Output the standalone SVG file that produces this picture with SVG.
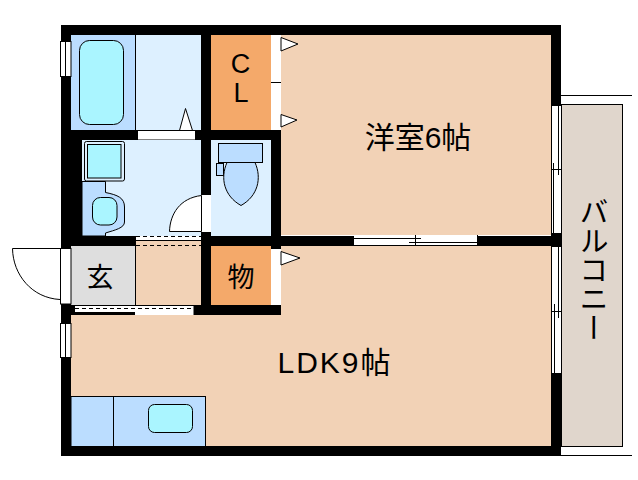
<svg xmlns="http://www.w3.org/2000/svg" width="638" height="480" viewBox="0 0 638 480">
<style>
.w{fill:#000}
.o{fill:#fff}
.l{fill:none;stroke:#000;stroke-width:1}
.e{stroke:#000;stroke-width:1}
.t{font-family:"Liberation Sans","Noto Sans CJK JP",sans-serif;fill:#000;text-anchor:middle}
.v{font-family:"Noto Sans CJK JP",sans-serif;fill:#000;writing-mode:vertical-rl;text-anchor:start}
.pe{fill:#F2D2B6}.lb{fill:#DDF0FF}.mb{fill:#BBDDFF}.cy{fill:#AAF5FF}.or{fill:#F4A96A}
.d{fill:none;stroke:#000;stroke-width:1;stroke-dasharray:4 3}
</style>
<rect width="638" height="480" fill="#fff"/>
<g id="balcony">
<path class="l" d="M561 95.500H632M561 455.500H632"/>
<rect x="561.500" y="104.500" width="61" height="342" fill="#E0D6CC" stroke="#000"/>
<text class="v" x="594" y="197" font-size="29">バルコニー</text>
</g>
<g id="western-room">
<rect class="pe" x="281" y="35" width="270" height="200"/>
<text class="t" x="418" y="148" font-size="30">洋室6帖</text>
</g>
<g id="ldk">
<rect class="pe" x="71" y="315" width="480" height="131"/>
<rect class="pe" x="281" y="245" width="270" height="70"/>
<text class="t" x="335" y="373" font-size="30" letter-spacing="2">LDK9帖</text>
</g>
<g id="kitchen">
<rect class="mb e" x="71" y="396.500" width="134.500" height="50"/>
<path class="l" d="M113.500 396V446"/>
<rect class="cy e" x="148.500" y="404.500" width="44" height="28" rx="6"/>
</g>
<g id="bath">
<rect class="mb" x="71" y="35" width="65" height="95"/>
<rect class="lb" x="136" y="35" width="65" height="95"/>
<path class="l" d="M135.500 35V130"/>
<rect class="cy e" x="79.500" y="40.500" width="44" height="84" rx="10"/>
<path class="e" fill="#fff" d="M179.500 130.500L185.500 108.500L192.500 130.500Z"/>
</g>
<g id="closet">
<rect class="or" x="211" y="35" width="60" height="95"/>
<text class="t" x="240.500" y="73" font-size="27">C</text>
<text class="t" x="241" y="102" font-size="27">L</text>
</g>
<g id="washroom">
<rect class="lb" x="82" y="140" width="119" height="96"/>
<path class="mb e" d="M82 181.500H105.500V192.500C118 195 124.500 198 124.500 207V222C124.500 228 115 230 105.500 233V236H82Z"/>
<rect class="lb e" x="84.500" y="141.500" width="40" height="39.500" rx="2"/>
<rect class="cy e" x="87.500" y="144.500" width="33.500" height="33.500"/>
<rect class="cy e" x="92.500" y="197.500" width="24.500" height="27.500" rx="8"/>
</g>
<g id="toilet">
<rect class="lb" x="211" y="140" width="60" height="96"/>
<rect class="mb e" x="218.500" y="143.500" width="44" height="19"/>
<rect class="mb e" x="216.500" y="163.500" width="7" height="12"/>
<path class="mb e" d="M227 162.500H255C262 178 258 196 241 205.500C224 196 220 178 227 162.500Z"/>
</g>
<g id="entrance">
<rect fill="#DEDEDE" x="71" y="246" width="65" height="59"/>
<rect class="pe" x="136" y="240" width="65" height="65"/>
<path class="l" d="M135.500 246V305"/>
<text class="t" x="100" y="287" font-size="27">玄</text>
</g>
<g id="storage">
<rect class="or" x="211" y="246" width="60" height="59"/>
<text class="t" x="241" y="287" font-size="27">物</text>
</g>
<g id="walls">
<rect class="w" x="61" y="25" width="500" height="10"/>
<rect class="w" x="61" y="25" width="10" height="431"/>
<rect class="w" x="61" y="446" width="500" height="10"/>
<rect class="w" x="551" y="25" width="10" height="431"/>
<rect class="w" x="61" y="130" width="220" height="10"/>
<rect class="w" x="61" y="130" width="21" height="116"/>
<rect class="w" x="201" y="35" width="10" height="280"/>
<rect class="w" x="271" y="130" width="10" height="116"/>
<rect class="w" x="61" y="236" width="75" height="10"/>
<rect class="w" x="211" y="236" width="340" height="10"/>
<rect class="w" x="61" y="305" width="75" height="10"/>
<rect class="w" x="194" y="305" width="87" height="10"/>
<rect class="w" x="271" y="246" width="10" height="3"/>
</g>
<g id="openings">
<rect class="o e" x="60.500" y="41.500" width="10.500" height="35"/>
<path class="l" d="M65.500 41V77"/>
<rect class="o e" x="60.500" y="323.500" width="10.500" height="34"/>
<path class="l" d="M65.500 323V358"/>
<rect class="o e" x="60.500" y="248.500" width="10.500" height="55.500"/>
<path class="l" d="M60 248.500H12.500C13 275 32 298 60 299.500"/>
<rect class="o" x="138" y="130.500" width="57" height="9"/>
<path class="l" d="M135 130.500H195"/>
<rect class="o" x="201" y="195" width="10" height="37"/>
<path fill="#fff" stroke="#000" d="M201.500 195.500C180 198 170 214 169.500 231.500H201.500Z"/>
<rect class="o" x="272" y="36" width="9" height="92"/>
<path class="l" d="M271 82.500H281"/>
<path class="e" fill="#fff" d="M281 37.500L298 44L281 51Z"/>
<path class="e" fill="#fff" d="M281 114.500L297 120L281 127Z"/>
<rect class="o" x="272" y="249" width="9" height="55"/>
<path class="e" fill="#fff" d="M281 251.500L300 258L281 265Z"/>
<rect class="o" x="75" y="306" width="60" height="6"/>
<rect class="o" x="135" y="306" width="59" height="9"/>
<path class="l" d="M75 305.500H194M194 305V315"/>
<path class="d" d="M75 308.500H194"/>
<path class="d" d="M136 236.500H201M136 245.500H201"/>
<path class="l" d="M136 240.500H201"/>
<rect class="o" x="354" y="235" width="124" height="10"/>
<path class="l" d="M354 238.500H421M409 242.500H478M415.500 235V245M477.500 235V245"/>
<rect class="o" x="552" y="106" width="9" height="127"/>
<path class="l" d="M551.500 106V233M561.500 106V233M558.500 106V175M553.500 163V233M552 169.500H561"/>
<rect class="o" x="552" y="247" width="9" height="126"/>
<path class="l" d="M551.500 247V373M561.500 247V373M558.500 247V318M554.500 304V373M552 311.500H561"/>
</g>
</svg>
